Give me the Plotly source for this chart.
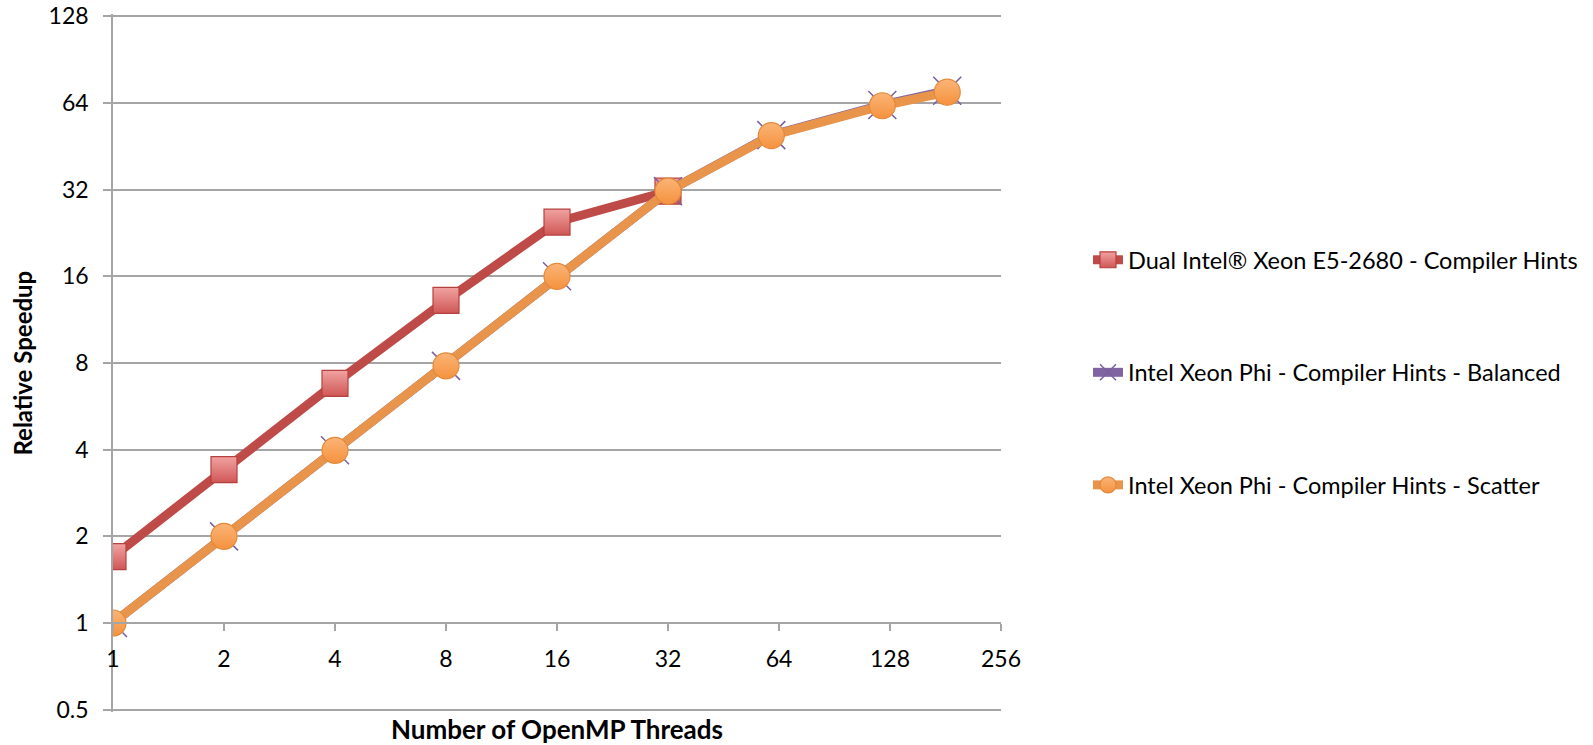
import plotly.graph_objects as go
import math

x_ticks = [1, 2, 4, 8, 16, 32, 64, 128, 256]
y_ticks = [0.5, 1, 2, 4, 8, 16, 32, 64, 128]

xeon_threads = [1, 2, 4, 8, 16, 32]
xeon_speedup = [1.70, 3.41, 6.8, 13.2, 24.7, 31.6]

phi_threads = [1, 2, 4, 8, 16, 32, 61, 122, 183]
phi_balanced = [1.0, 2.0, 3.98, 7.82, 16.0, 31.6, 49.5, 63.0, 70.6]
phi_scatter = [1.0, 2.0, 3.98, 7.82, 16.0, 31.6, 49.3, 62.6, 69.8]

names = ["Dual Intel® Xeon E5-2680 - Compiler Hints",
         "Intel Xeon Phi - Compiler Hints - Balanced",
         "Intel Xeon Phi - Compiler Hints - Scatter"]

FONT = "Lato"
GRID = "#A5A5A5"
W, H = 1593, 745
GRID_TOP, GRID_BOT = 16.6, 710.0          # page px of the 128 and 0.5 gridlines
EPS = 0.008                               # small range padding (log10 units)
span = math.log10(128) - math.log10(0.5)
ppu = (GRID_BOT - GRID_TOP) / span
pad = EPS * ppu
ML, MR = 112.5, 592
MT, MB = GRID_TOP - pad, (H - GRID_BOT) - pad
PW, PH = W - ML - MR, H - MT - MB

fig = go.Figure()
fig.add_trace(go.Scatter(
    x=xeon_threads, y=xeon_speedup, name=names[0], mode="lines+markers",
    legendgroup="a",
    line=dict(color="#BE4B48", width=9),
    marker=dict(symbol="square", size=26, color="#F1A3A2",
                gradient=dict(type="vertical", color="#CF5755"),
                line=dict(color="#B5413E", width=1.2)),
))
fig.add_trace(go.Scatter(
    x=phi_threads, y=phi_balanced, name=names[1], mode="lines+markers",
    legendgroup="b",
    line=dict(color="#8064A2", width=9),
    marker=dict(symbol="x-thin", size=28, color="#7A5E9E",
                line=dict(color="#7A5E9E", width=1.5)),
))
fig.add_trace(go.Scatter(
    x=phi_threads, y=phi_scatter, name=names[2], mode="lines+markers",
    legendgroup="c",
    line=dict(color="#E8944A", width=9),
    marker=dict(symbol="circle", size=26, color="#FBB477",
                gradient=dict(type="vertical", color="#F5923E"),
                line=dict(color="#E38A3C", width=1.2)),
))

ymin = math.log10(0.5) - EPS
ymax = math.log10(128) + EPS
pos_y1 = (0 - ymin) / (ymax - ymin)

fig.update_layout(
    width=W, height=H,
    margin=dict(l=ML, r=MR, t=MT, b=MB, autoexpand=False),
    paper_bgcolor="white", plot_bgcolor="white",
    font=dict(family=FONT, size=23, color="black"),
    showlegend=True,
    legend=dict(
        xref="container", yref="container",
        x=1088 / W, y=1 - 238 / H, xanchor="left", yanchor="top",
        font=dict(family=FONT, size=23.5, color="black"),
        traceorder="grouped", tracegroupgap=79,
        bgcolor="rgba(0,0,0,0)",
    ),
    xaxis=dict(
        type="log", range=[0, math.log10(256)],
        tickvals=x_ticks, ticktext=[str(v) for v in x_ticks],
        showgrid=False, zeroline=False, automargin=False,
        showline=True, linecolor=GRID, linewidth=1.5,
        ticks="outside", ticklen=7, tickcolor=GRID, tickwidth=1.5,
        anchor="free", position=pos_y1,
        tickfont=dict(family=FONT, size=23),
        ticklabelstandoff=9, ticklabeloverflow="allow",
    ),
    yaxis=dict(
        type="log", range=[ymin, ymax],
        tickvals=y_ticks, ticktext=[("0.5" if v == 0.5 else str(int(v))) for v in y_ticks],
        showgrid=True, gridcolor=GRID, gridwidth=1.5,
        zeroline=False, automargin=False,
        showline=True, linecolor=GRID, linewidth=1.5,
        ticks="outside", ticklen=8, tickcolor=GRID, tickwidth=1.5,
        tickfont=dict(family=FONT, size=23),
        ticklabelstandoff=10, ticklabeloverflow="allow",
    ),
    annotations=[
        dict(text="<b>Number of OpenMP Threads</b>", xref="paper", yref="paper",
             x=0.5, y=(H - MB - 729) / PH, xanchor="center", yanchor="middle",
             showarrow=False, font=dict(family=FONT, size=26, color="black")),
        dict(text="<b>Relative Speedup</b>", xref="paper", yref="paper",
             x=(21 - ML) / PW, y=0.5, xanchor="center", yanchor="middle", textangle=-90,
             showarrow=False, font=dict(family=FONT, size=24, color="black")),
    ],
)

fig.write_html("out.html",
               config={"displayModeBar": False},
               post_script="document.body.style.margin='0';document.body.style.overflow='hidden';")
